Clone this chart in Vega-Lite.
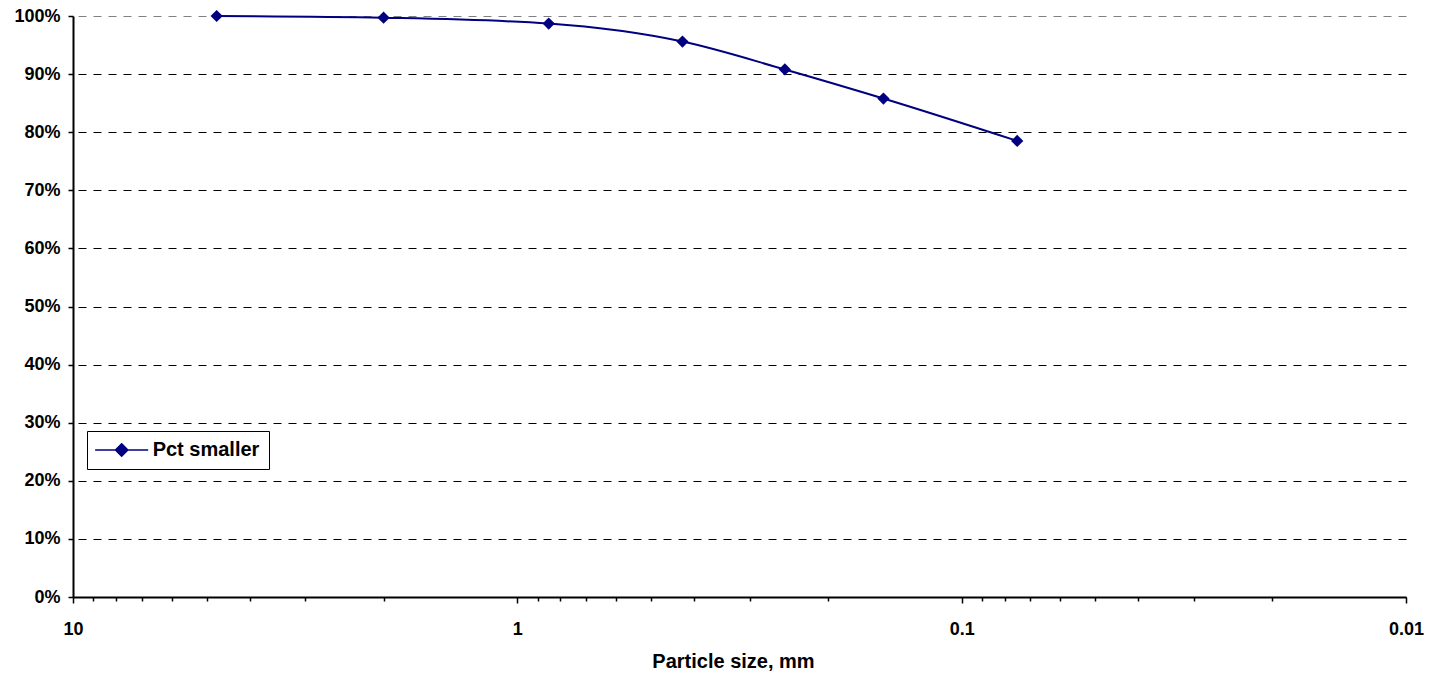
{
  "$schema": "https://vega.github.io/schema/vega-lite/v6.json",
  "width": 1333,
  "height": 581,
  "autosize": {"type": "none"},
  "padding": {"left": 73, "top": 16, "right": 36, "bottom": 80},
  "background": "white",
  "config": {"view": {"stroke": null}, "font": "Liberation Sans"},
  "data": {
    "values": [
      {"size": 4.75, "pct": 1.0},
      {"size": 2.0, "pct": 0.997},
      {"size": 0.85, "pct": 0.987},
      {"size": 0.425, "pct": 0.956},
      {"size": 0.25, "pct": 0.908},
      {"size": 0.15, "pct": 0.858},
      {"size": 0.075, "pct": 0.785}
    ]
  },
  "mark": {
    "type": "line",
    "interpolate": "monotone",
    "strokeWidth": 2,
    "point": {"shape": "diamond", "size": 150, "filled": true}
  },
  "encoding": {
    "x": {
      "field": "size",
      "type": "quantitative",
      "scale": {"type": "log", "domain": [0.01, 10], "reverse": true},
      "axis": {
        "values": [10, 9, 8, 7, 6, 5, 4, 3, 2, 1, 0.9, 0.8, 0.7, 0.6, 0.5, 0.4, 0.3, 0.2, 0.1, 0.09, 0.08, 0.07, 0.06, 0.05, 0.04, 0.03, 0.02, 0.01],
        "format": "~g",
        "labelExpr": "indexof(['10','1','0.1','0.01'], datum.label) >= 0 ? datum.label : ''",
        "grid": false,
        "domainColor": "black",
        "domainWidth": 2,
        "tickColor": "black",
        "tickWidth": 1.5,
        "tickSize": 6,
        "tickDash": {"condition": {"test": "indexof([10,1,0.1,0.01], datum.value) >= 0", "value": [10, 0]}, "value": [4, 20]},
        "labelFont": "Liberation Sans",
        "labelFontSize": 18,
        "labelFontWeight": "bold",
        "labelColor": "black",
        "labelPadding": 17,
        "labelOverlap": false,
        "labelFlush": false,
        "labelBound": false,
        "title": "Particle size, mm",
        "titleFont": "Liberation Sans",
        "titleFontSize": 20,
        "titleFontWeight": "bold",
        "titleColor": "black",
        "titleX": 660,
        "titleY": 70,
        "titleBaseline": "alphabetic",
        "titleAlign": "center"
      }
    },
    "y": {
      "field": "pct",
      "type": "quantitative",
      "scale": {"domain": [0, 1]},
      "axis": {
        "values": [0, 0.1, 0.2, 0.3, 0.4, 0.5, 0.6, 0.7, 0.8, 0.9, 1],
        "format": ".0%",
        "grid": true,
        "gridColor": {"condition": {"test": "datum.value == 1", "value": "#808080"}, "value": "black"},
        "gridDash": [8, 7],
        "gridWidth": 1,
        "domainColor": "black",
        "domainWidth": 2,
        "tickColor": "black",
        "tickSize": 5,
        "tickWidth": 1.5,
        "labelFont": "Liberation Sans",
        "labelFontSize": 18,
        "labelFontWeight": "bold",
        "labelColor": "black",
        "labelPadding": 8,
        "title": null
      }
    },
    "color": {
      "datum": "Pct smaller",
      "scale": {"range": ["#000080"]},
      "legend": {
        "orient": "none",
        "legendX": 14,
        "legendY": 415,
        "title": null,
        "strokeColor": "black",
        "fillColor": "white",
        "padding": 9,
        "symbolType": "M-3,0L3,0M0,-0.7L0.7,0L0,0.7L-0.7,0Z",
        "symbolSize": 313,
        "symbolOffset": 15.65,
        "symbolStrokeWidth": 1.5,
        "symbolFillColor": "#000080",
        "symbolStrokeColor": "#000080",
        "labelOffset": 21,
        "labelFont": "Liberation Sans",
        "labelFontSize": 20,
        "labelFontWeight": "bold",
        "labelColor": "black",
        "encode": {"symbols": {"update": {"fill": {"value": "#000080"}, "stroke": {"value": "#000080"}, "opacity": {"value": 1}}}}
      }
    }
  }
}
